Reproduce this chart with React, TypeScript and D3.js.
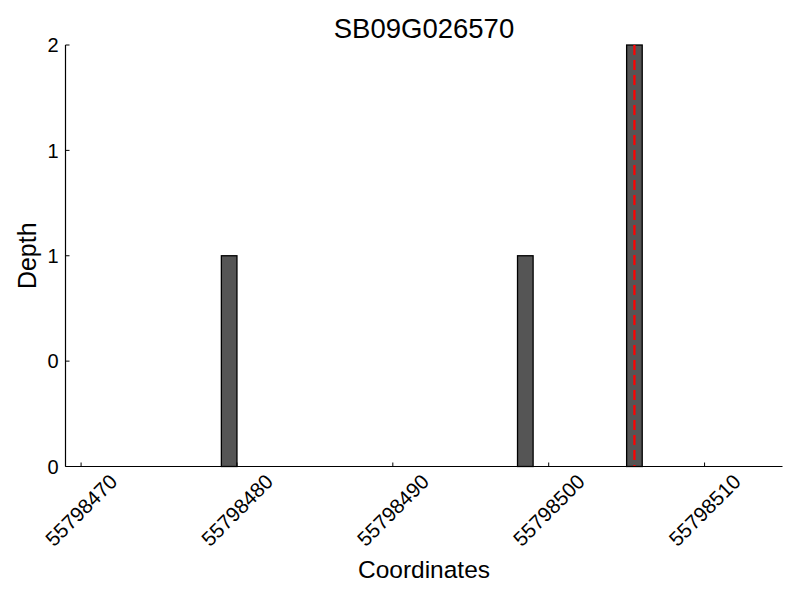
import React from 'react'
import * as d3 from 'd3'

const TITLE = 'SB09G026570'
// bar start coordinates (each bar spans one base)
const positions = [55798479, 55798498, 55798505]
const depths = [1, 1, 2]
const markerPos = 55798505.5
const xTicks = [55798470, 55798480, 55798490, 55798500, 55798510]
const yTicks = [0, 0.5, 1, 1.5, 2]

const W = 800
const H = 600
const FONT = '"Liberation Sans", Arial, Helvetica, sans-serif'

export default function App() {
  const x = d3.scaleLinear().domain([55798469, 55798515]).range([65.5, 782.5])
  const y = d3.scaleLinear().domain([0, 2]).range([466.5, 45])
  const [x0, x1] = x.range()
  const y0 = y(0)

  return (
    <svg width={W} height={H} style={{ position: 'absolute', left: 0, top: 0, background: '#fff' }} fontFamily={FONT}>
      <text x={(x0 + x1) / 2} y={38} textAnchor="middle" fontSize={27.5}>{TITLE}</text>

      {/* bars */}
      {positions.map((p, i) => (
        <rect key={p} x={x(p)} y={y(depths[i])} width={x(p + 1) - x(p)} height={y0 - y(depths[i])}
          fill="#555555" stroke="#000" strokeWidth={1.3} />
      ))}

      {/* marker line */}
      <line x1={x(markerPos)} x2={x(markerPos)} y1={y(2)} y2={y0} stroke="#ff0000" strokeWidth={2.2} strokeDasharray="10,5" />

      {/* spines */}
      <line x1={x0} x2={x0} y1={y(2)} y2={y0} stroke="#000" strokeWidth={1.2} />
      <line x1={x0} x2={x1} y1={y0} y2={y0} stroke="#000" strokeWidth={1.2} />

      {/* y ticks */}
      {yTicks.map((t) => (
        <g key={t}>
          <line x1={x0} x2={x0 + 4} y1={y(t)} y2={y(t)} stroke="#000" />
          <text x={x0 - 7} y={y(t)} dy="0.36em" textAnchor="end" fontSize={20}>{String(Math.trunc(t))}</text>
        </g>
      ))}

      {/* x ticks */}
      {xTicks.map((t) => (
        <g key={t}>
          <line x1={x(t)} x2={x(t)} y1={y0} y2={y0 - 4} stroke="#000" />
          <text transform={`translate(${x(t)},510) rotate(-45)`} textAnchor="middle" dy="0.36em" fontSize={20.5}>{t}</text>
        </g>
      ))}

      <text x={(x0 + x1) / 2} y={578} textAnchor="middle" fontSize={24.5}>Coordinates</text>
      <text transform={`translate(36,${(y(2) + y0) / 2}) rotate(-90)`} textAnchor="middle" fontSize={25}>Depth</text>
    </svg>
  )
}
